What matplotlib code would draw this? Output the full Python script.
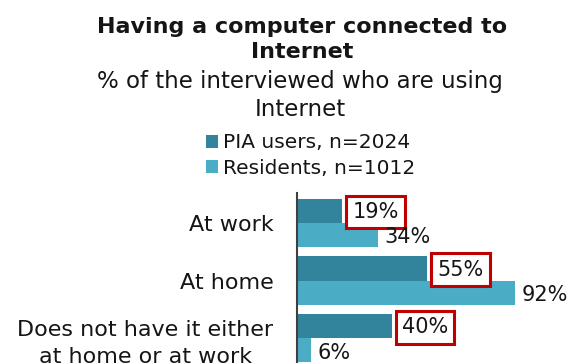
import matplotlib
matplotlib.use('Agg')
import matplotlib.pyplot as plt
import numpy as np

categories = ['At work', 'At home', 'Does not have it either\nat home or at work']
pia_users = [19, 55, 40]
residents = [34, 92, 6]
series_names = ['PIA users, n=2024', 'Residents, n=1012']

dark_teal = '#31849B'
light_teal = '#4BACC6'
box_red = '#C00000'
txt = '#151515'

plt.rcParams['font.family'] = 'DejaVu Sans'

fig = plt.figure(figsize=(5.71, 3.63), dpi=100)
ax = fig.add_axes([297 / 571, 0, 237 / 571, 170 / 363])

y = np.arange(len(categories))
h = 0.42
b1 = ax.barh(y - h / 2, pia_users, height=h, color=dark_teal, label=series_names[0])
b2 = ax.barh(y + h / 2, residents, height=h, color=light_teal, label=series_names[1])

# PIA values sit in red boxes, resident values are plain text
for yi, v in zip(y, pia_users):
    ax.text(v + 4.3, yi - h / 2 + 0.02, '%d%%' % v, ha='left', va='center',
            fontsize=15, color=txt,
            bbox=dict(boxstyle='square,pad=0.3', fc='white', ec=box_red, lw=2.2))
for yi, v in zip(y, residents):
    ax.text(v + 2.8, yi + h / 2 + 0.04, '%d%%' % v, ha='left', va='center',
            fontsize=15, color=txt)

ax.set_xlim(0, 100)
ax.set_ylim(2.43, -0.52)
ax.set_yticks(y)
ax.set_yticklabels(categories, fontsize=16, color=txt, multialignment='center',
                   linespacing=1.4)
ax.tick_params(axis='y', length=0, pad=17)
ax.set_xticks([])
for s in ['top', 'right', 'bottom']:
    ax.spines[s].set_visible(False)
ax.spines['left'].set_color('#404040')
ax.spines['left'].set_linewidth(1.5)
ax.patch.set_alpha(0)

fig.text(302 / 571, 1 - 39.5 / 363, 'Having a computer connected to\nInternet',
         ha='center', va='center', fontsize=16, fontweight='bold', color=txt,
         linespacing=1.3)
fig.text(300 / 571, 1 - 95.5 / 363, '% of the interviewed who are using\nInternet',
         ha='center', va='center', fontsize=16.5, color=txt, linespacing=1.27)

fig.legend(handles=[b1, b2], loc='center left',
           bbox_to_anchor=(206 / 571, 1 - 155.5 / 363), frameon=False,
           fontsize=14.5, handlelength=0.6, handleheight=0.6, handletextpad=0.25,
           labelspacing=0.3, borderpad=0, borderaxespad=0, labelcolor=txt)

fig.savefig('out.png', dpi=100)
